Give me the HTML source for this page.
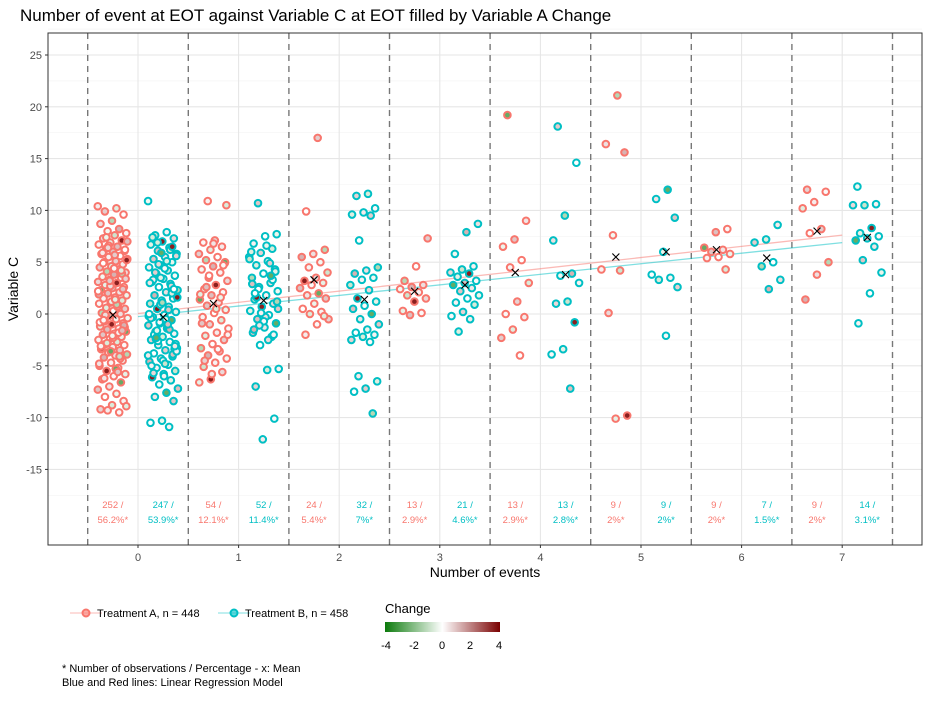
<!DOCTYPE html>
<html><head><meta charset="utf-8"><style>
body{margin:0;background:#fff;font-family:"Liberation Sans",Arial,sans-serif}
svg text{font-family:"Liberation Sans",Arial,sans-serif}
</style></head><body>
<svg id="c" width="941" height="696" xmlns="http://www.w3.org/2000/svg">
<rect width="941" height="696" fill="#fff"/>
<text x="20" y="21" font-size="17" fill="#000">Number of event at EOT against Variable C at EOT filled by Variable A Change</text>
<g id="plot"></g>
<text x="485" y="577" font-size="14" text-anchor="middle">Number of events</text>
<text transform="translate(18,289) rotate(-90)" font-size="14" text-anchor="middle">Variable C</text>
<g>
<g><line x1="70" y1="613" x2="102" y2="613" stroke="#F8766D" stroke-opacity="0.5"/><circle cx="86" cy="613" r="3.5" fill="#F8766D" fill-opacity="0.6" stroke="#F8766D" stroke-width="2"/><text x="97" y="617" font-size="11">Treatment A, n = 448</text></g>
<g><line x1="218" y1="613" x2="250" y2="613" stroke="#00BFC4" stroke-opacity="0.5"/><circle cx="234" cy="613" r="3.5" fill="#00BFC4" fill-opacity="0.6" stroke="#00BFC4" stroke-width="2"/><text x="245" y="617" font-size="11">Treatment B, n = 458</text></g>
</g>
<g>
<defs><linearGradient id="gr"><stop offset="0" stop-color="#0b7a0b"/><stop offset="0.5" stop-color="#ffffff"/><stop offset="1" stop-color="#7a0000"/></linearGradient></defs>
<text x="385" y="613" font-size="13">Change</text>
<rect x="385" y="622" width="115" height="10" fill="url(#gr)"/>
<text x="386" y="649" font-size="11" text-anchor="middle">-4</text>
<text x="414" y="649" font-size="11" text-anchor="middle">-2</text>
<text x="442" y="649" font-size="11" text-anchor="middle">0</text>
<text x="470" y="649" font-size="11" text-anchor="middle">2</text>
<text x="499" y="649" font-size="11" text-anchor="middle">4</text>
</g>
<text x="62" y="672" font-size="11">* Number of observations / Percentage - x: Mean</text>
<text x="62" y="686" font-size="11">Blue and Red lines: Linear Regression Model</text>
</svg>
<script>
const xTicks=[0,1,2,3,4,5,6,7];
const yTicks=[-15,-10,-5,0,5,10,15,20,25];
const seriesA=[
[10.4,10.2,9.9,9.6,9.0,8.7,8.2,8.0,7.8,7.6,7.3,7.1,6.9,6.7,6.5,6.3,6.1,6.0,5.8,5.6,5.5,5.3,5.1,5.0,4.8,4.6,4.5,4.3,4.1,4.0,3.8,3.6,3.5,3.3,3.1,3.0,2.8,2.6,2.5,2.3,2.1,2.0,1.8,1.6,1.5,1.3,1.1,1.0,0.8,0.6,0.5,0.3,0.1,0.0,-0.2,-0.4,-0.5,-0.7,-0.9,-1.0,-1.2,-1.4,-1.5,-1.7,-1.9,-2.0,-2.2,-2.4,-2.5,-2.7,-2.9,-3.0,-3.2,-3.4,-3.5,-3.7,-3.9,-4.0,-4.2,-4.5,-4.7,-5.0,-5.2,-5.5,-5.8,-6.0,-6.3,-6.6,-7.0,-7.3,-7.7,-8.0,-8.4,-8.8,-9.2,-9.5,-9.3,-8.9,5.7,4.9,3.9,2.7,1.9,0.7,-0.3,-1.3,-2.3,-3.3,-4.3,6.6,7.0,-5.3,-6.2,2.4,1.2,-0.8,-1.8,-2.8,3.4,4.4,5.9,4.2,3.2,2.2,0.9,-0.1,-1.1,-2.1,-3.1,-4.1,6.4,5.2,1.4,-0.6,-1.6,-3.6,-4.8,-5.6,7.4,6.2],
[10.9,10.5,7.1,6.9,6.5,6.2,5.8,5.5,5.2,4.9,4.6,4.3,4.0,3.5,3.2,2.8,2.4,2.1,1.8,1.4,1.1,0.8,0.4,0.1,-0.3,-0.6,-1.0,-1.4,-1.8,-2.1,-2.5,-2.9,-3.3,-3.6,-4.0,-4.3,-4.7,-5.1,-5.6,-6.3,-6.6,-3.4,2.6,5.0,6.8,-0.9,1.6,3.7,-2.0,0.5,-4.5,4.7,-5.8,1.9],
[17.0,9.9,6.2,5.8,5.5,5.0,4.5,4.0,3.5,3.2,3.0,2.8,2.5,2.0,1.8,1.5,1.0,0.5,0.2,0.0,-0.5,-1.0,-2.0,-0.2],
[7.3,4.6,3.2,2.8,2.6,2.4,2.1,1.8,1.5,1.2,0.3,0.1,-0.1],
[19.2,9.0,7.2,6.5,5.2,4.5,3.0,1.2,0.0,-0.3,-1.5,-2.3,-4.0],
[21.1,16.4,15.6,7.6,4.3,4.2,0.1,-9.8,-10.1],
[8.2,7.9,6.4,6.2,6.0,5.8,5.5,5.4,4.3],
[12.0,11.8,10.8,10.2,8.2,7.8,5.0,3.8,1.4]];
const seriesB=[
[10.9,7.9,7.6,7.3,7.0,6.7,6.4,6.1,5.8,5.5,5.3,5.0,4.7,4.5,4.2,3.9,3.7,3.4,3.1,2.9,2.6,2.3,2.1,1.8,1.5,1.3,1.0,0.7,0.5,0.2,-0.1,-0.3,-0.6,-0.9,-1.1,-1.4,-1.7,-1.9,-2.2,-2.5,-2.7,-3.0,-3.3,-3.5,-3.8,-4.1,-4.3,-4.6,-4.9,-5.2,-5.5,-5.8,-6.1,-6.4,-6.8,-7.2,-7.6,-8.0,-8.4,-10.3,-10.5,-10.9,6.9,5.6,4.4,3.3,2.0,0.9,-0.2,-1.2,-2.4,-3.4,-4.5,-5.0,6.2,4.8,1.6,-0.5,-2.0,-3.9,5.9,3.0,0.4,-1.6,-2.9,-6.0,7.4,2.7,-0.8,-4.0,5.1,4.0,2.4,1.1,-0.4,-1.5,-2.6,-3.6,-4.8,-5.7,6.5,3.5,0.0,-1.0,-2.3,-3.1],
[10.7,7.7,7.5,6.8,6.3,5.9,5.5,5.1,4.7,4.3,3.9,3.5,3.0,2.6,2.2,1.8,1.4,1.0,0.7,0.3,-0.1,-0.5,-0.9,-1.3,-1.8,-2.2,-3.0,-5.3,-5.4,-7.0,-10.1,-12.1,6.0,4.9,2.4,1.2,-0.3,-1.5,3.3,0.1,5.3,-2.5,1.6,4.1,-0.7,2.9,3.7,-1.1,0.5,6.6,2.0,-2.0],
[11.6,11.4,10.2,9.8,9.6,9.5,7.1,4.5,4.2,3.9,3.5,3.3,2.8,2.3,1.5,1.2,0.8,0.5,0.0,-0.5,-1.0,-1.5,-1.8,-2.0,-2.2,-2.5,-2.7,-6.0,-6.5,-7.2,-7.5,-9.6],
[8.7,7.9,5.8,4.6,4.3,4.0,3.9,3.6,3.2,3.0,2.8,2.5,2.2,1.8,1.5,1.1,0.9,0.2,-0.2,-0.5,-1.7],
[18.1,14.6,9.5,7.1,3.9,3.7,3.0,1.2,1.0,-0.8,-3.4,-3.9,-7.2],
[12.0,11.1,9.3,6.0,3.8,3.5,3.3,2.6,-2.1],
[8.6,7.2,6.9,5.0,4.6,3.3,2.4],
[12.3,10.6,10.5,10.5,8.3,7.8,7.5,7.3,7.1,6.5,5.2,4.0,2.0,-0.9]];
const changeCycle=[0.3,-0.5,0.8,0,-1.2,0.5,1.2,-0.2,0.2,-0.8,0.6,3.5,-0.4,0.1,1,-2.5,0.4,0.9,-0.3,0,0.2,-0.6,0.7,0.1];
const meansA=[-0.1,1.0,3.3,2.2,4.0,5.5,6.2,8.0];
const meansB=[-0.3,1.3,1.4,2.8,3.8,6.0,5.4,7.4];
const countsA=["252 /","54 /","24 /","13 /","13 /","9 /","9 /","9 /"];
const pctA=["56.2%*","12.1%*","5.4%*","2.9%*","2.9%*","2%*","2%*","2%*"];
const countsB=["247 /","52 /","32 /","21 /","13 /","9 /","7 /","14 /"];
const pctB=["53.9%*","11.4%*","7%*","4.6%*","2.8%*","2%*","1.5%*","3.1%*"];
const regA=[0.05,1.08];
const regB=[-0.25,1.02];

const X0=48,X1=922,Y0=33,Y1=545;
const xs=v=>138+v*100.6, ys=v=>314-v*10.36;
const NS="http://www.w3.org/2000/svg";
const g=document.getElementById('plot');
function mk(t,a,p){const e=document.createElementNS(NS,t);for(const k in a)e.setAttribute(k,a[k]);(p||g).appendChild(e);return e;}
function col(c){const t=Math.max(-1,Math.min(1,c/4));let r,gg,b;
 if(t<0){const s=-t;r=255+(11-255)*s;gg=255+(122-255)*s;b=255+(11-255)*s;}
 else{r=255+(122-255)*t;gg=255+(0-255)*t;b=255+(0-255)*t;}
 return `rgb(${r|0},${gg|0},${b|0})`;}
mk('rect',{x:X0,y:Y0,width:X1-X0,height:Y1-Y0,fill:'#fff'});
for(let v=-17.5;v<=27.5;v+=5){mk('line',{x1:X0,x2:X1,y1:ys(v),y2:ys(v),stroke:'#f3f3f3','stroke-width':0.6});}
for(let v=-0.5;v<=7.5;v+=1){mk('line',{x1:xs(v),x2:xs(v),y1:Y0,y2:Y1,stroke:'#f3f3f3','stroke-width':0.6});}
yTicks.forEach(v=>{const l=mk('line',{x1:X0,x2:X1,y1:ys(v),y2:ys(v),stroke:'#e6e6e6','stroke-width':1.1});
 
 const t=mk('text',{x:X0-6,y:ys(v)+4,'font-size':11,'text-anchor':'end',fill:'#4d4d4d'});t.textContent=v;
 
 mk('line',{x1:X0-3,x2:X0,y1:ys(v),y2:ys(v),stroke:'#333'});});
xTicks.forEach(v=>{const l=mk('line',{x1:xs(v),x2:xs(v),y1:Y0,y2:Y1,stroke:'#e6e6e6','stroke-width':1.1});
 
 const t=mk('text',{x:xs(v),y:Y1+16,'font-size':11,'text-anchor':'middle',fill:'#4d4d4d'});t.textContent=v;
 
 mk('line',{x1:xs(v),x2:xs(v),y1:Y1,y2:Y1+3,stroke:'#333'});});
for(let v=-0.5;v<=7.5;v+=1){const l=mk('line',{x1:xs(v),x2:xs(v),y1:Y0,y2:Y1,stroke:'#777','stroke-width':1.4,'stroke-dasharray':'6,5'});
 }
[[regA,'#F8766D'],[regB,'#00BFC4']].forEach(([r,c],i)=>{const l=mk('line',{x1:xs(0),y1:ys(r[0]),x2:xs(7),y2:ys(r[0]+r[1]*7),stroke:c,'stroke-opacity':0.5,'stroke-width':1.3});
 });
let k=0;
function drawSeries(S,off,c,name){S.forEach((arr,gi)=>{arr.forEach((v,i)=>{
 const j=((i*0.618+gi*0.31)%1-0.5)*0.3;
 const ch=changeCycle[(k++)%changeCycle.length];
 const p=mk('circle',{cx:xs(gi+off+j),cy:ys(v),r:3.3,fill:col(ch),stroke:c,'stroke-width':2});
 });});}
drawSeries(seriesA,-0.25,'#F8766D','point-treatment-a');
drawSeries(seriesB,0.25,'#00BFC4','point-treatment-b');
function drawMeans(M,off,name){M.forEach((v,i)=>{const x=xs(i+off),y=ys(v),s=3.5;
 const gm=mk('g',{});
 mk('line',{x1:x-s,y1:y-s,x2:x+s,y2:y+s,stroke:'#000','stroke-width':1.1},gm);
 mk('line',{x1:x-s,y1:y+s,x2:x+s,y2:y-s,stroke:'#000','stroke-width':1.1},gm);});}
drawMeans(meansA,-0.25,'mean-marker-a');drawMeans(meansB,0.25,'mean-marker-b');
function ann(C,P,off,c,name){C.forEach((t,i)=>{
 const a=mk('text',{x:xs(i+off),y:508,'font-size':9.5,'text-anchor':'middle',fill:c});a.textContent=t;
 
 const b=mk('text',{x:xs(i+off),y:523,'font-size':9.5,'text-anchor':'middle',fill:c});b.textContent=P[i];
 });}
ann(countsA,pctA,-0.25,'#F8766D','count-label-a');ann(countsB,pctB,0.25,'#00BFC4','count-label-b');
const br=mk('rect',{x:X0,y:Y0,width:X1-X0,height:Y1-Y0,fill:'none',stroke:'#333','stroke-width':1});

</script>
</body></html>
